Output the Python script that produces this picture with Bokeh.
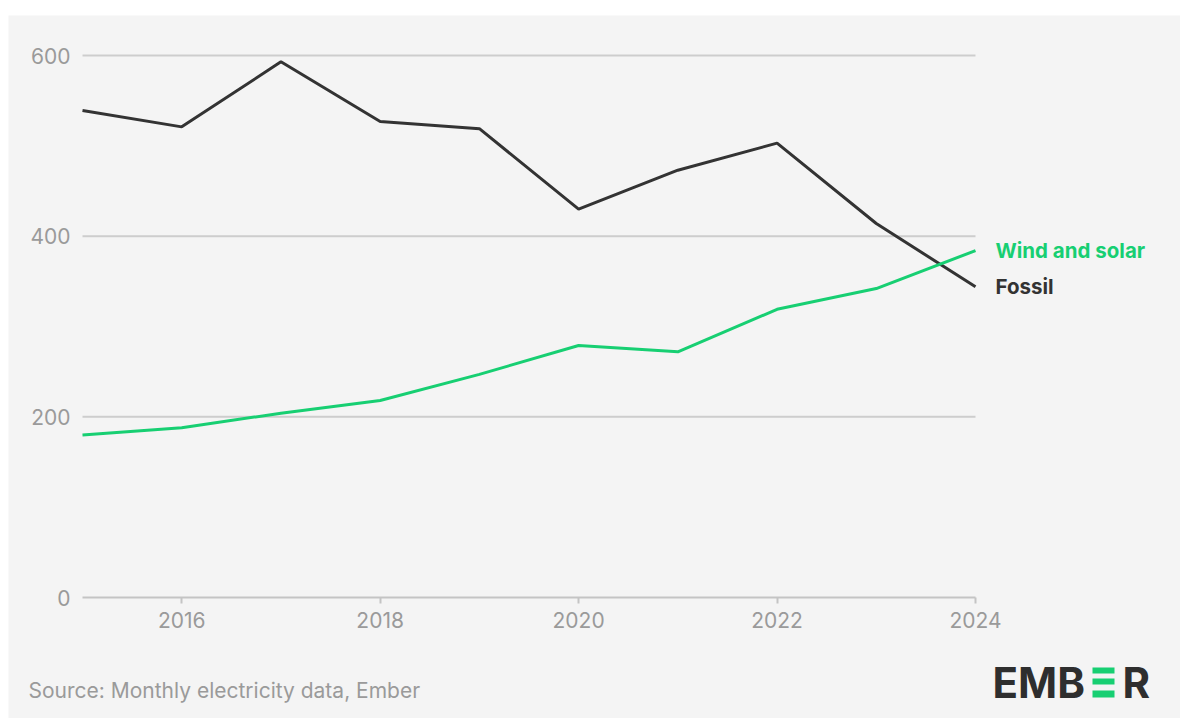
from bokeh.plotting import figure
from bokeh.models import Range1d, Label, LabelSet, BoxAnnotation, FixedTicker, ColumnDataSource
from bokeh.core.properties import value
from bokeh.embed import file_html
from bokeh.resources import INLINE

years = [2015, 2016, 2017, 2018, 2019, 2020, 2021, 2022, 2023, 2024]
fossil = [539, 521, 593, 527, 519, 430, 473, 503, 414, 344]
wind_solar = [180, 188, 204, 218, 247, 279, 272, 319, 342, 384]
x_ticks = [2016, 2018, 2020, 2022, 2024]
y_ticks = [0, 200, 400, 600]
grid_values = [200, 400, 600]
series_names = ["Wind and solar", "Fossil"]
source_text = "Source: Monthly electricity data, Ember"

GREEN = "#17cf72"
DARK = "#333333"
BG = "#f4f4f4"
FONT = "Inter"

# layout (pixels): figure canvas 1172x703; plot area 74..967 (x) and 40..582 (y)
W, H = 1172, 703
PX_L, PX_R = 74, 967
PY_T, PY_B = 40, 582
x0, x1 = years[0], years[-1]
y0, y1 = y_ticks[0], y_ticks[-1]
xs = (x1 - x0) / (PX_R - PX_L)
ys = (y1 - y0) / (PY_B - PY_T)
x_range = Range1d(x0 - PX_L * xs, x1 + (W - PX_R) * xs)
y_range = Range1d(y0 - (H - PY_B) * ys, y1 + PY_T * ys)

p = figure(width=W, height=H, output_backend="svg", toolbar_location=None,
           x_range=x_range, y_range=y_range,
           min_border=0, min_border_left=0, min_border_right=0,
           min_border_top=0, min_border_bottom=0,
           background_fill_color=BG, border_fill_color=BG, outline_line_color=None)
p.margin = (15, 0, 0, 8)
p.xgrid.grid_line_color = None
p.ygrid.grid_line_color = None

grid_src = ColumnDataSource(dict(x0=[x0] * len(grid_values), x1=[x1] * len(grid_values),
                                 y=grid_values))
p.segment(x0="x0", y0="y", x1="x1", y1="y", source=grid_src,
          line_color="#cdcdcd", line_width=2)

p.line(years, fossil, line_color=DARK, line_width=3)
p.line(years, wind_solar, line_color=GREEN, line_width=3)

for ax in p.xaxis:
    ax.ticker = FixedTicker(ticks=x_ticks)
    ax.fixed_location = y0
    ax.bounds = (x0, x1)
    ax.axis_line_color = "#c4c4c4"
    ax.axis_line_width = 2
    ax.major_tick_line_color = "#c4c4c4"
    ax.major_tick_line_width = 2
    ax.major_tick_out = 6
    ax.major_tick_in = 0
    ax.minor_tick_line_color = None
    ax.major_label_text_font = FONT
    ax.major_label_text_font_size = "21px"
    ax.major_label_text_color = "#9a9a9a"
    ax.major_label_standoff = 8
for ax in p.yaxis:
    ax.ticker = FixedTicker(ticks=y_ticks)
    ax.fixed_location = x0
    ax.axis_line_color = None
    ax.major_tick_line_color = None
    ax.minor_tick_line_color = None
    ax.major_label_text_font = FONT
    ax.major_label_text_font_size = "21px"
    ax.major_label_text_color = "#9a9a9a"
    ax.major_label_standoff = 6

lab = ColumnDataSource(dict(x=[years[-1], years[-1]], y=[wind_solar[-1], fossil[-1]],
                            t=series_names, c=[GREEN, DARK]))
p.add_layout(LabelSet(x="x", y="y", text="t", text_color="c", source=lab, x_offset=20,
                      text_baseline="middle", text_align="left", text_font=value(FONT),
                      text_font_size=value("20.5px"), text_font_style=value("bold")))

p.add_layout(Label(x=20, y=28, x_units="screen", y_units="screen", text=source_text,
                   text_font=FONT, text_font_size="21px", text_color="#9a9a9a",
                   text_baseline="middle"))
# logo
p.add_layout(Label(x=984, y=36, x_units="screen", y_units="screen", text="EMB",
                   text_font=FONT, text_font_size="42px", text_font_style="bold",
                   text_color="#2e2e2e", text_baseline="middle"))
p.add_layout(Label(x=1114, y=36, x_units="screen", y_units="screen", text="R",
                   text_font=FONT, text_font_size="42px", text_font_style="bold",
                   text_color="#2e2e2e", text_baseline="middle"))
for top, bottom in [(51, 45), (40, 34), (28, 21)]:
    p.add_layout(BoxAnnotation(left=1084, right=1106, top=top, bottom=bottom,
                               left_units="screen", right_units="screen",
                               top_units="screen", bottom_units="screen",
                               fill_color=GREEN, fill_alpha=1, line_color=None))

open("out.html", "w").write(file_html(p, INLINE))
